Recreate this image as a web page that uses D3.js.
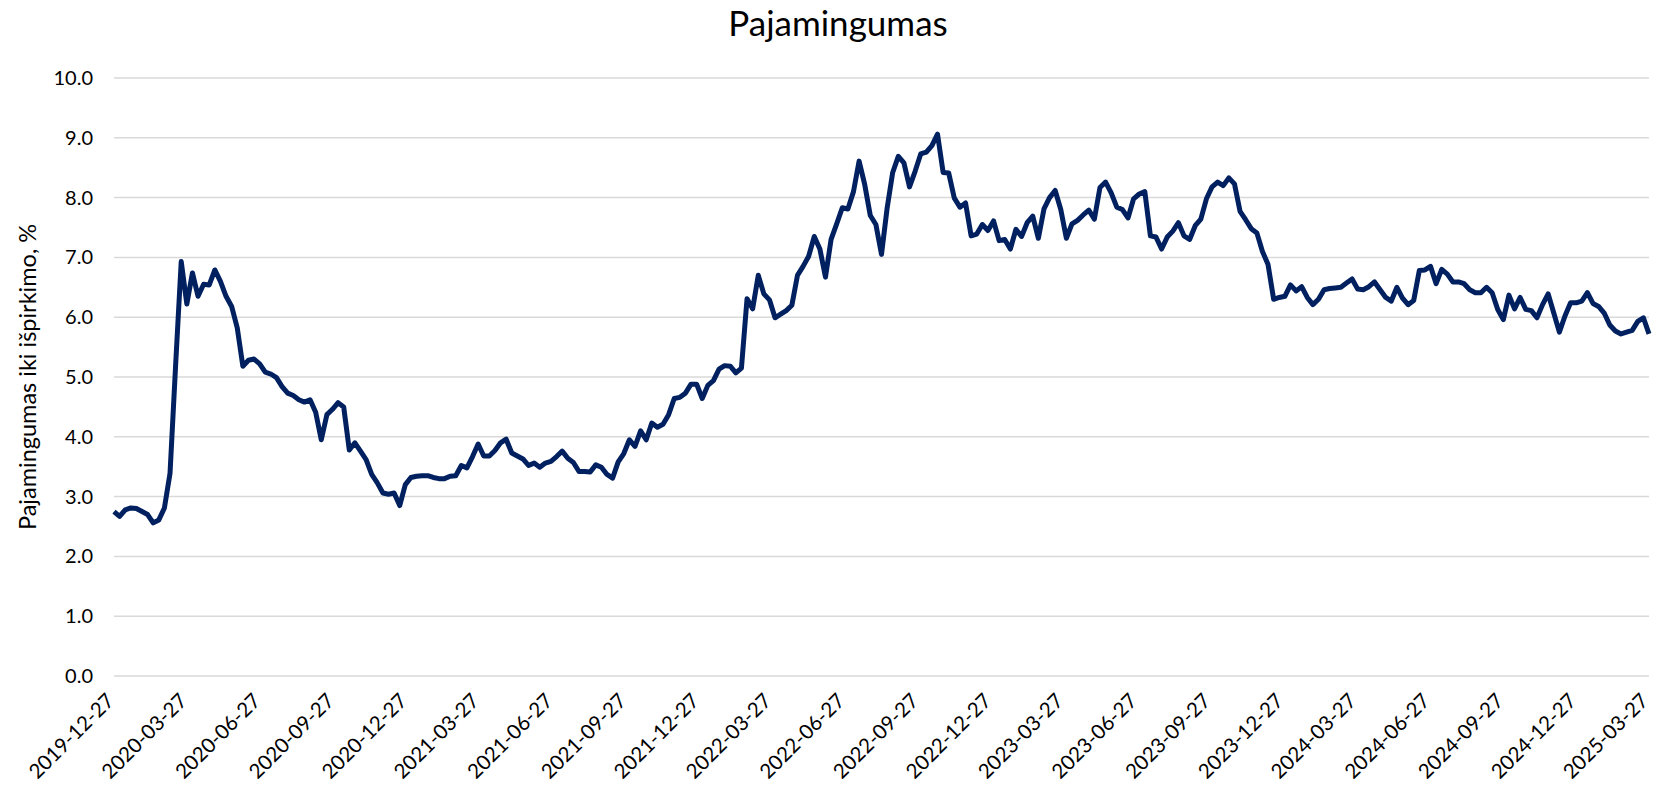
<!DOCTYPE html>
<html>
<head>
<meta charset="utf-8">
<script src="https://cdn.jsdelivr.net/npm/d3@7"></script>
<style>
  body { margin: 0; background: #fff; }
  svg text { font-family: Lato, "Open Sans", sans-serif; fill: #000; }
</style>
</head>
<body>
<div id="chart"></div>
<script>
// Savaitiniai duomenys, pirmoji savaitė
const firstWeek = "2019-12-27";

// Pajamingumas iki išpirkimo, % (kas savaitę, nuskaityta nuo grafiko)
const yieldPct = [
  2.75, 2.67, 2.78, 2.81, 2.80, 2.75, 2.70, 2.56, 2.61, 2.81,
  3.39, 5.20, 6.93, 6.22, 6.74, 6.35, 6.55, 6.54, 6.79, 6.60,
  6.35, 6.18, 5.82, 5.18, 5.28, 5.30, 5.22, 5.08, 5.05, 4.99,
  4.84, 4.73, 4.69, 4.62, 4.58, 4.62, 4.41, 3.95, 4.37, 4.46,
  4.57, 4.50, 3.78, 3.90, 3.76, 3.62, 3.37, 3.23, 3.06, 3.04,
  3.06, 2.85, 3.20, 3.32, 3.34, 3.35, 3.35, 3.32, 3.30, 3.30,
  3.34, 3.35, 3.52, 3.48, 3.67, 3.88, 3.68, 3.68, 3.77, 3.90,
  3.96, 3.73, 3.68, 3.63, 3.52, 3.56, 3.49, 3.56, 3.59, 3.67,
  3.76, 3.64, 3.57, 3.42, 3.42, 3.41, 3.53, 3.49, 3.37, 3.31,
  3.58, 3.72, 3.95, 3.84, 4.10, 3.95, 4.23, 4.16, 4.21, 4.37,
  4.64, 4.66, 4.73, 4.88, 4.88, 4.64, 4.86, 4.94, 5.13, 5.19,
  5.18, 5.07, 5.15, 6.31, 6.14, 6.70, 6.39, 6.29, 5.99, 6.05,
  6.11, 6.20, 6.70, 6.85, 7.02, 7.35, 7.14, 6.67, 7.30, 7.56,
  7.83, 7.81, 8.10, 8.61, 8.22, 7.70, 7.55, 7.05, 7.82, 8.42,
  8.69, 8.58, 8.18, 8.44, 8.73, 8.76, 8.87, 9.06, 8.42, 8.41,
  7.99, 7.84, 7.91, 7.36, 7.39, 7.55, 7.45, 7.61, 7.28, 7.30,
  7.14, 7.47, 7.35, 7.58, 7.69, 7.32, 7.81, 8.00, 8.12, 7.80,
  7.32, 7.56, 7.62, 7.71, 7.79, 7.64, 8.17, 8.26, 8.08, 7.84,
  7.80, 7.66, 7.98, 8.06, 8.10, 7.36, 7.34, 7.14, 7.34, 7.44,
  7.58, 7.36, 7.30, 7.53, 7.64, 7.98, 8.18, 8.26, 8.20, 8.33,
  8.23, 7.77, 7.63, 7.48, 7.41, 7.10, 6.88, 6.30, 6.33, 6.35,
  6.54, 6.44, 6.51, 6.33, 6.21, 6.30, 6.46, 6.48, 6.49, 6.50,
  6.57, 6.64, 6.47, 6.46, 6.51, 6.59, 6.46, 6.33, 6.27, 6.50,
  6.32, 6.21, 6.28, 6.78, 6.79, 6.85, 6.56, 6.80, 6.72, 6.59,
  6.59, 6.56, 6.46, 6.41, 6.41, 6.50, 6.41, 6.13, 5.96, 6.37,
  6.14, 6.33, 6.13, 6.11, 5.99, 6.21, 6.39, 6.07, 5.75, 6.02,
  6.24, 6.24, 6.27, 6.41, 6.23, 6.18, 6.07, 5.87, 5.77, 5.72,
  5.75, 5.78, 5.93, 5.99, 5.72
];

// X ašies žymės (kas 3 mėnesius)
const xTickLabels = [
  "2019-12-27", "2020-03-27", "2020-06-27", "2020-09-27", "2020-12-27",
  "2021-03-27", "2021-06-27", "2021-09-27", "2021-12-27",
  "2022-03-27", "2022-06-27", "2022-09-27", "2022-12-27",
  "2023-03-27", "2023-06-27", "2023-09-27", "2023-12-27",
  "2024-03-27", "2024-06-27", "2024-09-27", "2024-12-27",
  "2025-03-27"
];

// Y ašies žymės
const yTicks = [0, 1, 2, 3, 4, 5, 6, 7, 8, 9, 10];

const chartTitle = "Pajamingumas";
const yTitle = "Pajamingumas iki išpirkimo, %";

// Matmenys
const width = 1657;
const height = 786;
const margin = {top: 78, right: 8, bottom: 110, left: 114};

const parseDate = d3.utcParse("%Y-%m-%d");
const start = parseDate(firstWeek);

// Savaičių datos
const data = yieldPct.map((v, i) => ({date: d3.utcDay.offset(start, 7 * i), value: v}));

const svg = d3.select("#chart").append("svg")
  .attr("width", width)
  .attr("height", height);

const x = d3.scaleUtc()
  .domain([start, data[data.length - 1].date])
  .range([margin.left, width - margin.right]);

const y = d3.scaleLinear()
  .domain([0, 10])
  .range([height - margin.bottom, margin.top]);

// Tinklelio linijos
svg.append("g")
  .selectAll("line")
  .data(yTicks)
  .join("line")
  .attr("x1", margin.left)
  .attr("x2", width - margin.right)
  .attr("y1", d => y(d))
  .attr("y2", d => y(d))
  .attr("stroke", "#d9d9d9")
  .attr("stroke-width", 1.5);

// Y ašis
const yAxis = svg.append("g")
  .attr("transform", `translate(${margin.left - 21},0)`)
  .call(d3.axisLeft(y).tickValues(yTicks).tickFormat(d3.format(".1f")).tickSize(0).tickPadding(0));
yAxis.select(".domain").remove();
yAxis.selectAll("text")
  .style("font-size", "20px");

// X ašis, pasuktos žymės
const xAxis = svg.append("g")
  .attr("transform", `translate(0,${height - margin.bottom})`)
  .call(d3.axisBottom(x).tickValues(xTickLabels.map(parseDate)).tickFormat(d3.utcFormat("%Y-%m-%d")).tickSize(0));
xAxis.select(".domain").remove();
xAxis.selectAll("text")
  .style("font-size", "20.5px")
  .attr("text-anchor", "end")
  .attr("dy", null)
  .attr("y", 0)
  .attr("transform", "translate(1,26) rotate(-45)");

// Linija
const line = d3.line()
  .x(d => x(d.date))
  .y(d => y(d.value));

svg.append("path")
  .datum(data)
  .attr("fill", "none")
  .attr("stroke", "#002060")
  .attr("stroke-width", 5)
  .attr("stroke-linejoin", "round")
  .attr("d", line);

// Pavadinimas
svg.append("text")
  .attr("x", 838)
  .attr("y", 36)
  .attr("text-anchor", "middle")
  .style("font-size", "35px")
  .text(chartTitle);

// Y ašies pavadinimas
svg.append("text")
  .attr("transform", `translate(30,${(margin.top + height - margin.bottom) / 2}) rotate(-90)`)
  .attr("text-anchor", "middle")
  .attr("dominant-baseline", "middle")
  .style("font-size", "23.5px")
  .text(yTitle);
</script>
</body>
</html>
